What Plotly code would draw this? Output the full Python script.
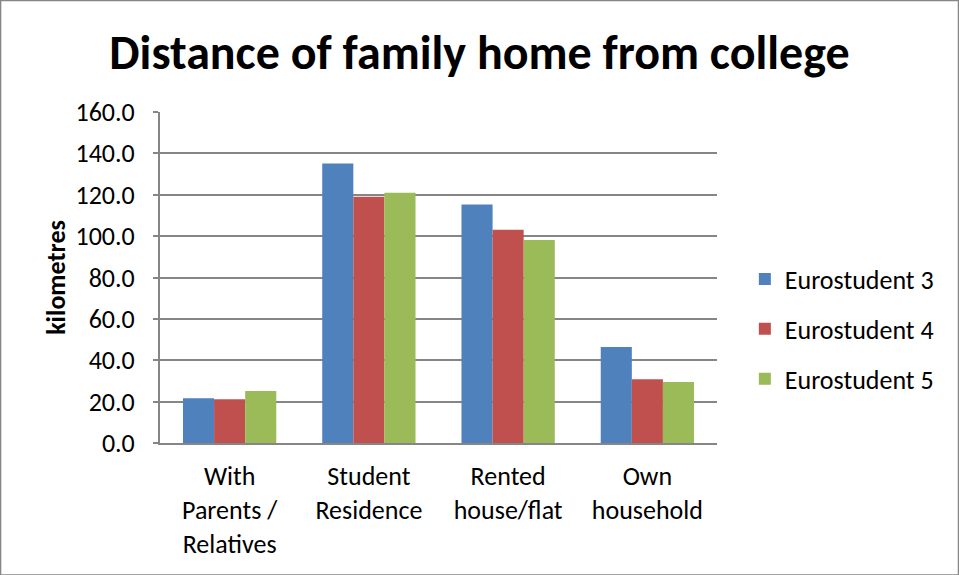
import plotly.graph_objects as go

# Distance of the family home from college, by type of housing
categories = ["With<br>Parents /<br>Relatives", "Student<br>Residence",
              "Rented<br>house/flat", "Own<br>household"]
series_names = ["Eurostudent 3", "Eurostudent 4", "Eurostudent 5"]
eurostudent_3 = [21.6, 135.1, 115.3, 46.4]
eurostudent_4 = [21.1, 119.0, 103.1, 30.8]
eurostudent_5 = [25.1, 121.0, 98.1, 29.5]
y_ticks = [0, 20, 40, 60, 80, 100, 120, 140, 160]

colors = ["#4F81BD", "#C0504D", "#9BBB59"]
FONT = "Calibri, Carlito, Lato, sans-serif"

fig = go.Figure()
for i, (name, vals) in enumerate(zip(series_names,
                                     [eurostudent_3, eurostudent_4, eurostudent_5])):
    fig.add_trace(go.Bar(
        x=categories, y=vals, name=name, legendgroup=name,
        marker=dict(color=colors[i], line=dict(width=0)),
    ))

fig.update_layout(
    width=959, height=575,
    margin=dict(l=160, r=242, t=112, b=132),
    paper_bgcolor="white", plot_bgcolor="white",
    barmode="group", bargap=0.33, bargroupgap=0,
    font=dict(family=FONT, color="black"),
    title=dict(text="<b>Distance of family home from college</b>",
               x=0.5, xref="container", xanchor="center",
               y=1 - 52 / 575, yref="container", yanchor="middle",
               font=dict(size=48, family=FONT, color="black")),
    legend=dict(x=1.05, xanchor="left", xref="paper", y=0.344, yanchor="middle",
                font=dict(size=26, family=FONT), tracegroupgap=13,
                traceorder="grouped", itemwidth=30, bgcolor="rgba(0,0,0,0)"),
    showlegend=True,
)

fig.update_xaxes(
    showline=True, linecolor="#868686", linewidth=2,
    tickfont=dict(size=26, family=FONT), ticks="",
    ticklabelstandoff=9,
    showgrid=False,
)
fig.update_yaxes(
    range=[0, 160], tickvals=y_ticks,
    ticktext=[f"{v:.1f}" for v in y_ticks],
    tickfont=dict(size=26, family=FONT),
    showgrid=True, gridcolor="#868686", gridwidth=2,
    showline=True, linecolor="#868686", linewidth=2,
    zeroline=False, ticks="outside", ticklen=5, tickcolor="#868686",
    tickwidth=2, ticklabelstandoff=13,
    title=dict(text="<b>kilometres</b>", font=dict(size=26, family=FONT),
               standoff=2),
)

# thin outer frame around the chart area
fig.add_shape(type="rect", xref="paper", yref="paper",
              x0=-160.0 / 557 + 0.001, x1=1 + 241.5 / 557,
              y0=-132.0 / 331, y1=1 + 111.5 / 331,
              line=dict(color="#868686", width=1.5), layer="below")

fig.write_html("out.html")
